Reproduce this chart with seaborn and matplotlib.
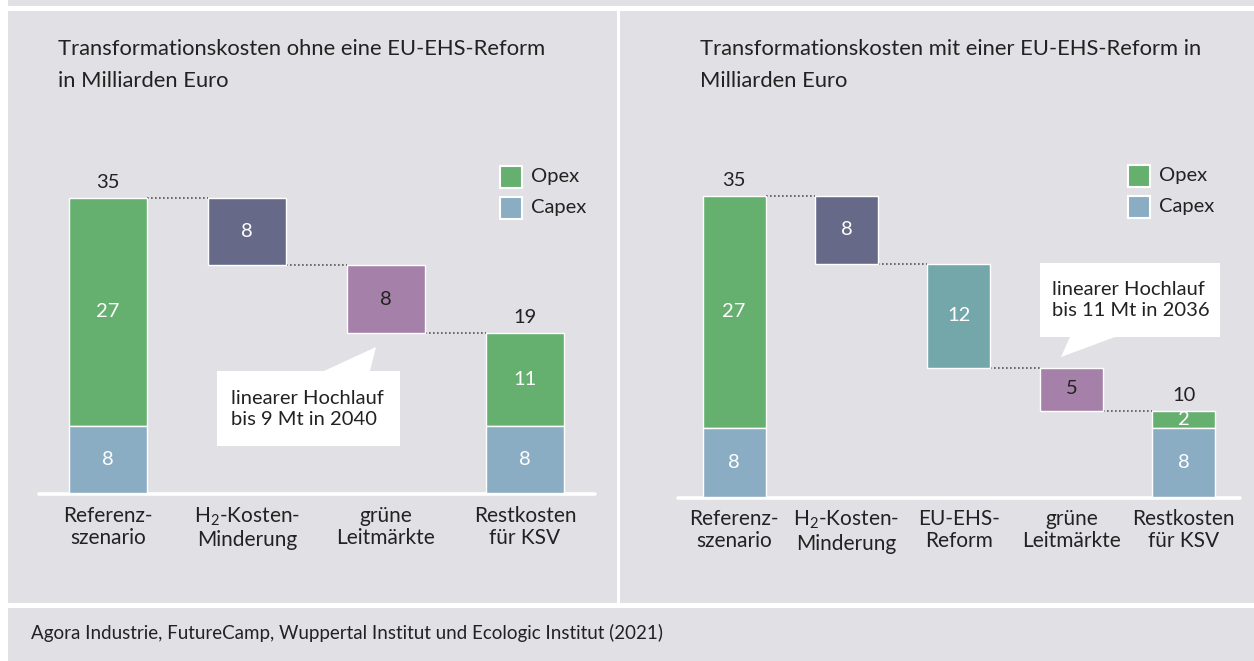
import numpy as np
import pandas as pd
import matplotlib.pyplot as plt
import seaborn as sns
from matplotlib.patches import Rectangle, Polygon

# ___________ DATA ___________
left_cats = ['Referenz-\nszenario', 'H$_2$-Kosten-\nMinderung', 'grüne\nLeitmärkte', 'Restkosten\nfür KSV']
left_values = [35, -8, -8, 19]          # totals and changes
left_capex = [8, 0, 0, 8]
left_is_total = [True, False, False, True]
left_title = ['Transformationskosten ohne eine EU-EHS-Reform', 'in Milliarden Euro']
left_note = 'linearer Hochlauf\nbis 9 Mt in 2040'

right_cats = ['Referenz-\nszenario', 'H$_2$-Kosten-\nMinderung', 'EU-EHS-\nReform', 'grüne\nLeitmärkte', 'Restkosten\nfür KSV']
right_values = [35, -8, -12, -5, 10]
right_capex = [8, 0, 0, 0, 8]
right_is_total = [True, False, False, False, True]
right_title = ['Transformationskosten mit einer EU-EHS-Reform in', 'Milliarden Euro']
right_note = 'linearer Hochlauf\nbis 11 Mt in 2036'

legend_labels = ['Opex', 'Capex']
source_text = 'Agora Industrie, FutureCamp, Wuppertal Institut und Ecologic Institut (2021)'

# colours
BG = '#e1e0e5'
OPEX = '#66b06f'
CAPEX = '#8badc4'
H2 = '#666a88'
EHS = '#74a7aa'
GREEN_MKT = '#a580a8'
left_colors = [OPEX, H2, GREEN_MKT, OPEX]
right_colors = [OPEX, H2, EHS, GREEN_MKT, OPEX]
left_label_colors = ['white', 'white', '#222222', 'white']
right_label_colors = ['white', 'white', 'white', '#222222', 'white']

# ___________ STYLE ___________
sns.set_style('white')
plt.rcParams['font.family'] = ['Lato', 'DejaVu Sans']
plt.rcParams['mathtext.fontset'] = 'custom'
plt.rcParams['mathtext.rm'] = 'Lato'
plt.rcParams['mathtext.default'] = 'regular'

W, H = 1254, 661
fig = plt.figure(figsize=(W / 100, H / 100), dpi=100, facecolor=BG)


def fx(x):
    return x / W


def fy(y):
    return 1 - y / H


# white frame lines
for (x0, y0, x1, y1) in [(0, 0, 8, H), (0, 6, W, 11), (617, 11, 620, 603), (0, 603, W, 608)]:
    fig.add_artist(Rectangle((fx(x0), fy(y1)), fx(x1) - fx(x0), fy(y0) - fy(y1),
                             transform=fig.transFigure, color='white', lw=0))


def waterfall(ax, cats, values, capex, is_total, colors, label_colors):
    tops, bottoms = [], []
    running = 0
    for v, c, t in zip(values, capex, is_total):
        if t:
            tops.append(v)
            bottoms.append(c)
            running = v
        else:
            tops.append(running)
            bottoms.append(running + v)
            running = running + v
    df = pd.DataFrame({'cat': cats, 'top': tops, 'bottom': bottoms, 'capex': capex})

    sns.barplot(data=df, x='cat', y='top', hue='cat', palette=colors, order=cats,
                legend=False, width=0.56, saturation=1, ax=ax, zorder=3)
    for patch, b, t in zip(ax.patches, bottoms, tops):
        patch.set_y(b)
        patch.set_height(t - b)
    sns.barplot(data=df, x='cat', y='capex', color=CAPEX, order=cats,
                width=0.56, saturation=1, ax=ax, zorder=3)

    for i, (b, t, c, tot) in enumerate(zip(bottoms, tops, capex, is_total)):
        ax.text(i, (b + t) / 2, str(t - b), ha='center', va='center', fontsize=14.5,
                color=label_colors[i], zorder=4)
        if tot:
            ax.text(i, c / 2, str(c), ha='center', va='center', fontsize=14.5, color='white', zorder=4)
            ax.annotate(str(t), (i, t), xytext=(0, 11), textcoords='offset points',
                        ha='center', va='center', fontsize=14.5, color='#222222')
        # dotted connector to next bar
        if i < len(cats) - 1:
            level = bottoms[i] if not tot else t
            ax.plot([i + 0.28, i + 1 - 0.28], [level, level], color='#555555',
                    lw=1.2, linestyle=(0, (1, 1.4)), zorder=2)

    ax.axhline(-0.17, color='white', lw=2.6, clip_on=False, zorder=1)
    ax.set_xlim(-0.5, len(cats) - 0.5)
    ax.set_ylim(0, 40)
    ax.set_facecolor('none')
    sns.despine(ax=ax, left=True, bottom=True)
    ax.set_yticks([])
    ax.set_xlabel('')
    ax.set_ylabel('')
    ax.set_xticks(range(len(cats)))
    ax.set_xticklabels(cats, fontsize=15, color='#222222', linespacing=1.15)
    ax.tick_params(axis='x', length=0, pad=9)


ax_left = fig.add_axes([fx(38.5), fy(493), fx(594.5) - fx(38.5), fy(493 - 40 * 8.434) - fy(493)])
waterfall(ax_left, left_cats, left_values, left_capex, left_is_total, left_colors, left_label_colors)

ax_right = fig.add_axes([fx(677.8), fy(496.5), fx(1240) - fx(677.8), fy(496.5 - 40 * 8.6) - fy(496.5)])
waterfall(ax_right, right_cats, right_values, right_capex, right_is_total, right_colors, right_label_colors)

# titles
for x0, lines in [(58, left_title), (700, right_title)]:
    fig.text(fx(x0), fy(49), lines[0], fontsize=15.8, color='#222222', va='center')
    fig.text(fx(x0), fy(81), lines[1], fontsize=15.8, color='#222222', va='center')

# legends
for x0, y0 in [(500, 166), (1128, 165)]:
    for k, (lab, col) in enumerate(zip(legend_labels, [OPEX, CAPEX])):
        yy = y0 + k * 31
        fig.add_artist(Rectangle((fx(x0), fy(yy + 22)), 22 / W, 22 / H, transform=fig.transFigure,
                                 facecolor=col, edgecolor='white', lw=1.5))
        fig.text(fx(x0 + 31), fy(yy + 11), lab, fontsize=14.5, color='#222222', va='center')

# callouts
callout_left = [(217, 371), (324, 371), (376, 347), (370, 371), (400, 371), (400, 446), (217, 446)]
callout_right = [(1040, 263), (1220, 263), (1220, 337), (1115, 337), (1061, 357), (1070, 337), (1040, 337)]
for pts, note, tx, ty in [(callout_left, left_note, 231, 409), (callout_right, right_note, 1052, 300)]:
    fig.add_artist(Polygon([(fx(a), fy(b)) for a, b in pts], closed=True, transform=fig.transFigure,
                           facecolor='white', edgecolor='none'))
    fig.text(fx(tx), fy(ty), note, fontsize=14.5, color='#222222', va='center', linespacing=1.3)

# source
fig.text(fx(31), fy(633), source_text, fontsize=13.5, color='#222222', va='center')

plt.savefig('out.png', dpi=100, facecolor=BG)
plt.close()
